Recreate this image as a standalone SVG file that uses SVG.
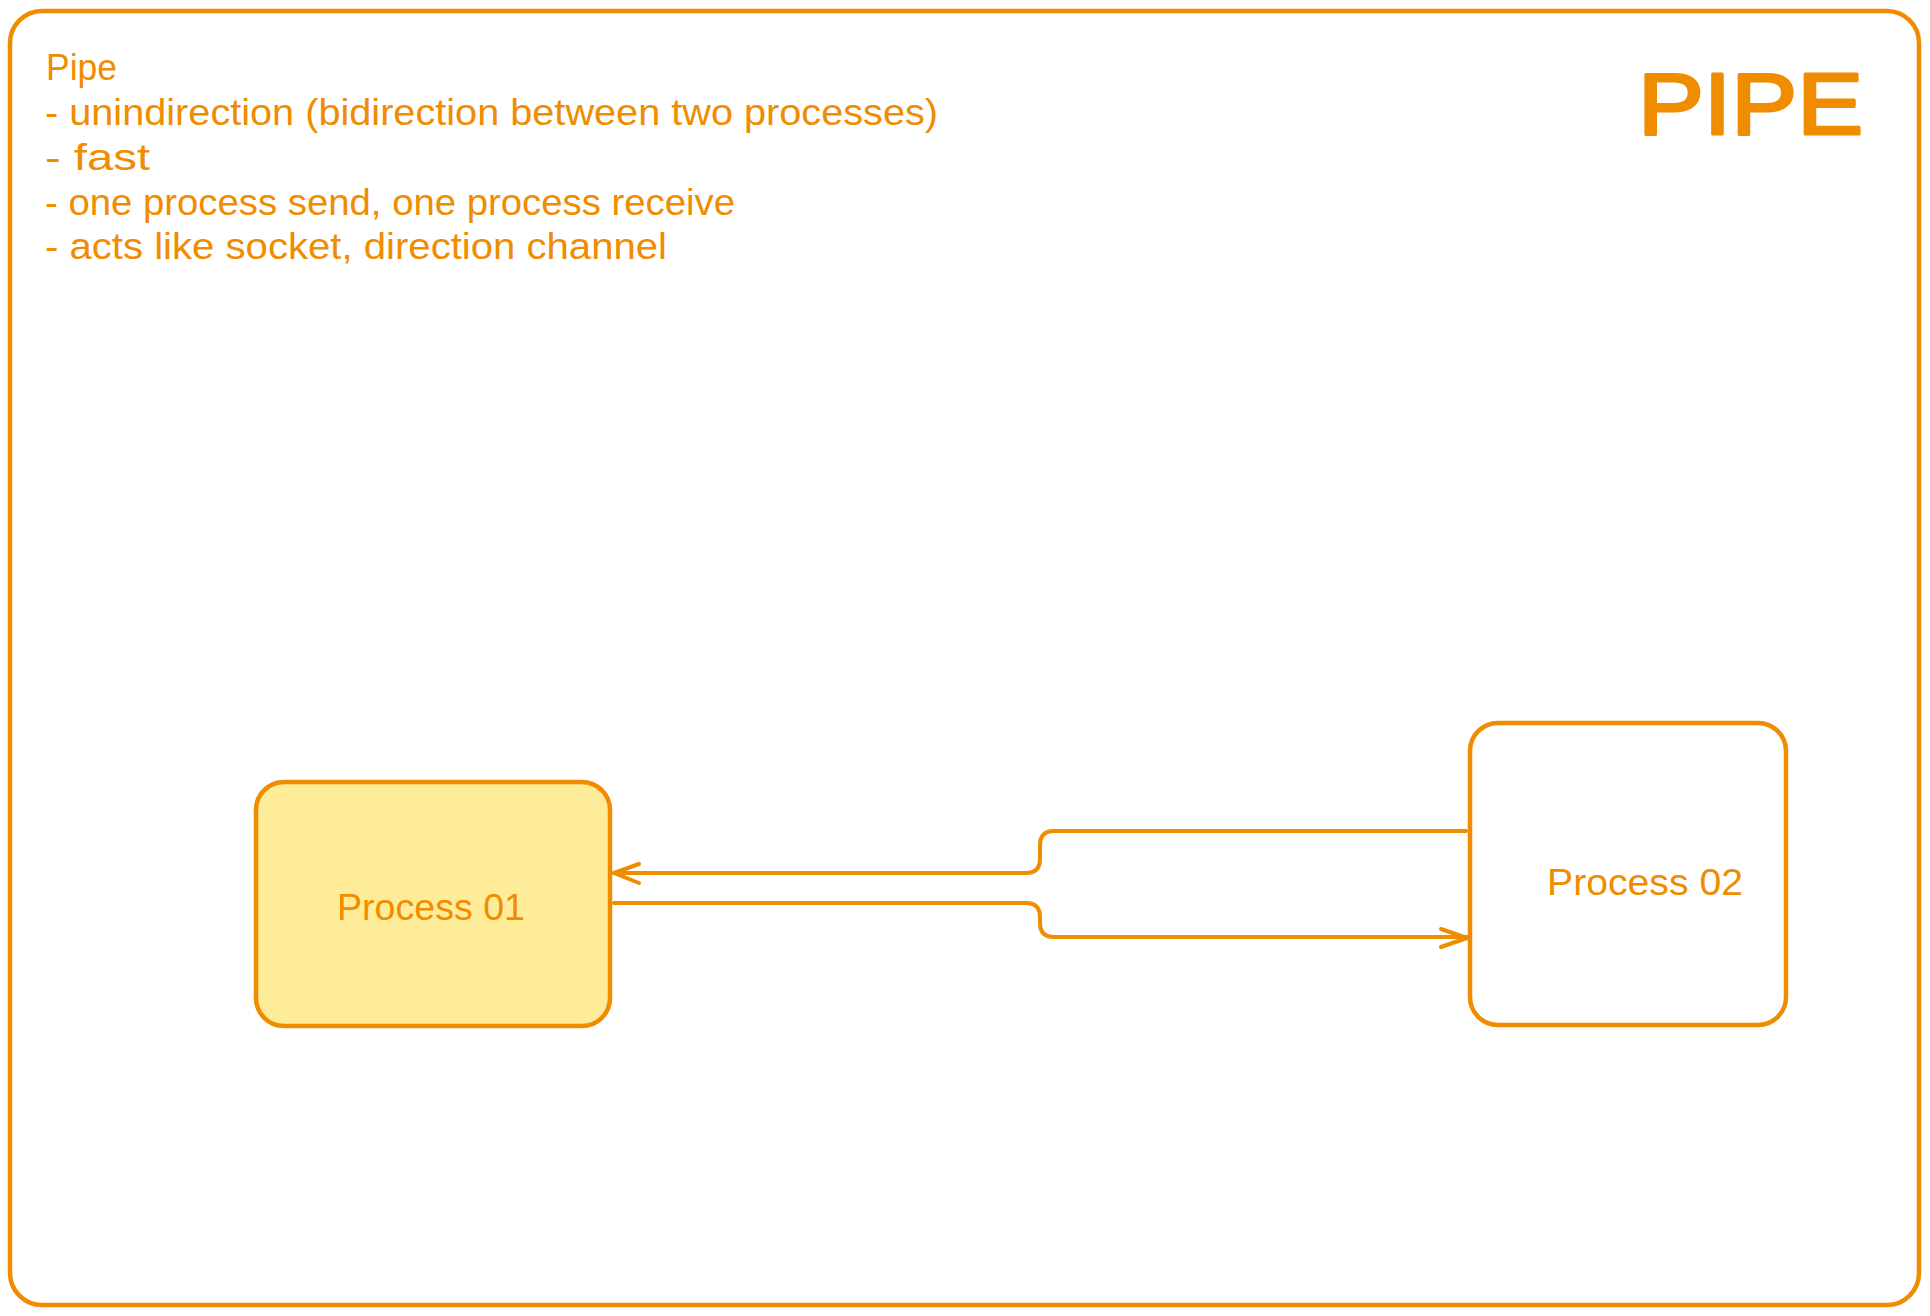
<svg xmlns="http://www.w3.org/2000/svg" width="1930" height="1316" viewBox="0 0 1930 1316">
  <style>
    .ln { fill: none; stroke: #f08c00; stroke-width: 4; stroke-linecap: round; stroke-linejoin: round; }
    .box { stroke: #f08c00; stroke-width: 4.5; }
    .txt { fill: #f08c00; font-family: "Liberation Sans", Arial, sans-serif; font-size: 36px; }
    .title { fill: #f08c00; stroke: #f08c00; stroke-width: 3; stroke-linejoin: round; font-family: "Liberation Sans", Arial, sans-serif; font-weight: normal; font-size: 88px; }
  </style>
  <rect x="0" y="0" width="1930" height="1316" fill="#ffffff"/>
  <g id="frame">
    <rect x="10" y="11" width="1909" height="1294" rx="32" ry="32" fill="none" class="box"/>
  </g>
  <g id="notes">
    <text class="txt" x="46" y="80" textLength="71" lengthAdjust="spacingAndGlyphs">Pipe</text>
    <text class="txt" x="45" y="125" textLength="893" lengthAdjust="spacingAndGlyphs">- unindirection (bidirection between two processes)</text>
    <text class="txt" x="45" y="170" textLength="105" lengthAdjust="spacingAndGlyphs">- fast</text>
    <text class="txt" x="45" y="215" textLength="690" lengthAdjust="spacingAndGlyphs">- one process send, one process receive</text>
    <text class="txt" x="45" y="259" textLength="622" lengthAdjust="spacingAndGlyphs">- acts like socket, direction channel</text>
  </g>
  <g id="title">
    <text class="title" x="1638" y="134" textLength="225" lengthAdjust="spacingAndGlyphs">PIPE</text>
  </g>
  <g id="process01">
    <rect x="256" y="782" width="354" height="244" rx="28" ry="28" fill="#ffec99" class="box"/>
    <text class="txt" x="337" y="920" textLength="188" lengthAdjust="spacingAndGlyphs">Process 01</text>
  </g>
  <g id="process02">
    <rect x="1470" y="723" width="316" height="302" rx="28" ry="28" fill="#ffffff" class="box"/>
    <text class="txt" x="1547" y="895" textLength="196" lengthAdjust="spacingAndGlyphs">Process 02</text>
  </g>
  <g id="connectors">
    <path class="ln" d="M1466,831 H1054 Q1040,831 1040,845 V859 Q1040,873 1026,873 H614"/>
    <path class="ln" d="M639,864 L614,873 L639,883"/>
    <path class="ln" d="M614,903 H1026 Q1040,903 1040,917 V923 Q1040,937 1054,937 H1467"/>
    <path class="ln" d="M1441,929 L1467,938 L1441,947"/>
  </g>
</svg>
